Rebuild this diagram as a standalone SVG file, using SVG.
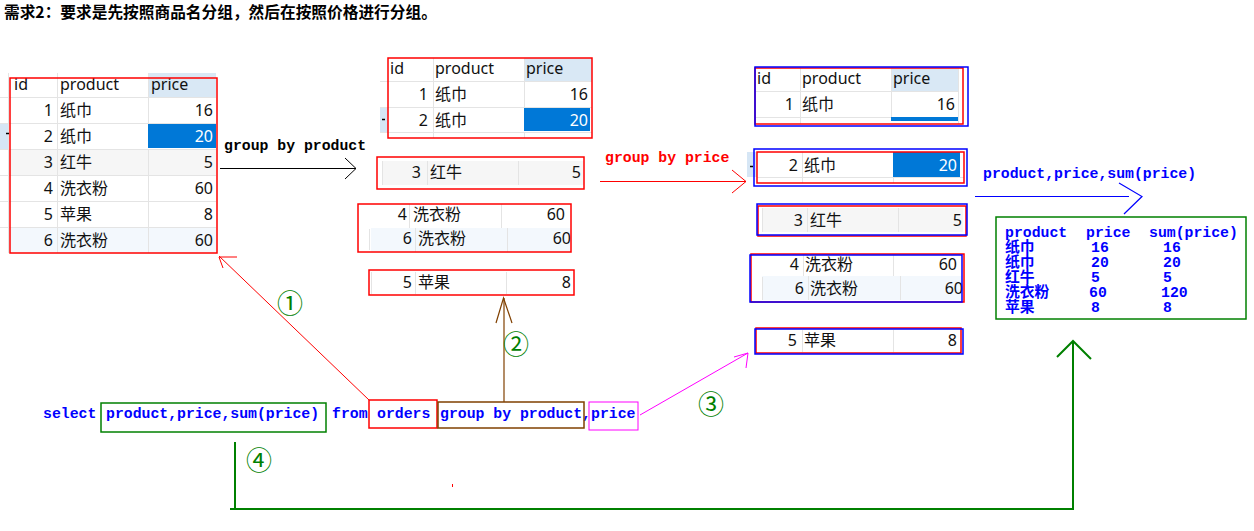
<svg xmlns="http://www.w3.org/2000/svg" width="1254" height="531" viewBox="0 0 1254 531">
<style>
.t{font-family:"Noto Sans","Noto Sans CJK SC",sans-serif;font-size:16px;fill:#111}
.w{fill:#fff}
.e{text-anchor:end}
.m{font-family:"Liberation Mono","DejaVu Sans Mono","Noto Sans CJK SC",monospace;font-weight:bold;font-size:14.8px}
.g{stroke:#e4e4e4;stroke-width:1;fill:none}
.rb{fill:none;stroke:#ff0000;stroke-width:1.5}
.bb{fill:none;stroke:#0000ff;stroke-width:1.5}
.hdr{fill:#d9e8f5}
.sel{fill:#0078d7}
.alt{fill:#f6f6f6}
.lb{fill:#f3f8fd}
.gut{fill:#d6e6f5}
.circ{font-family:"Noto Sans CJK SC",sans-serif;font-size:26px;fill:#008000;text-anchor:middle}
</style>
<rect width="1254" height="531" fill="#fff"/>
<g id="title">
<text x="4" y="18" style="font-family:'Noto Sans CJK SC',sans-serif;font-weight:bold;font-size:15.7px;fill:#000">需求2：要求是先按照商品名分组，然后在按照价格进行分组。</text>
</g>
<g id="table-orders">
<rect class="hdr" x="148" y="73" width="68" height="24"/>
<rect class="gut" x="0" y="123" width="8" height="26"/>
<rect class="alt" x="8" y="149" width="208" height="26"/>
<rect class="lb" x="8" y="227" width="208" height="26"/>
<rect class="sel" x="148" y="123" width="68" height="25"/>
<path class="g" d="M8.5 73V253M57.5 73V253M148.5 73V123M148.5 149V253M0 97.5H216M0 123.5H216M0 149.5H216M0 175.5H216M0 201.5H216M0 227.5H216"/>
<path d="M6 133.5h3" stroke="#000" stroke-width="1.5"/>
<text class="t" x="14" y="90">id</text><text class="t" x="60" y="90">product</text><text class="t" x="151" y="90">price</text>
<text class="t e" x="53" y="116">1</text><text class="t" x="60" y="116">纸巾</text><text class="t e" x="213" y="116">16</text>
<text class="t e" x="53" y="142">2</text><text class="t" x="60" y="142">纸巾</text><text class="t e w" x="213" y="142">20</text>
<text class="t e" x="53" y="168">3</text><text class="t" x="60" y="168">红牛</text><text class="t e" x="213" y="168">5</text>
<text class="t e" x="53" y="194">4</text><text class="t" x="60" y="194">洗衣粉</text><text class="t e" x="213" y="194">60</text>
<text class="t e" x="53" y="220">5</text><text class="t" x="60" y="220">苹果</text><text class="t e" x="213" y="220">8</text>
<text class="t e" x="53" y="246">6</text><text class="t" x="60" y="246">洗衣粉</text><text class="t e" x="213" y="246">60</text>
<rect class="rb" x="10" y="78" width="207" height="175"/>
</g>
<g id="group-zhijin">
<rect class="hdr" x="524" y="58" width="68" height="23"/>
<rect class="gut" x="380" y="107" width="8" height="25"/>
<rect class="sel" x="524" y="108" width="66" height="23"/>
<path class="g" d="M433.5 58V138M524.5 58V107M524.5 132V138M380 81.5H592M380 107.5H592M380 132.5H592"/>
<path d="M382 119.5h3" stroke="#000" stroke-width="1.5"/>
<text class="t" x="390" y="74">id</text><text class="t" x="435" y="74">product</text><text class="t" x="526" y="74">price</text>
<text class="t e" x="428" y="100">1</text><text class="t" x="435" y="100">纸巾</text><text class="t e" x="588" y="100">16</text>
<text class="t e" x="428" y="126">2</text><text class="t" x="435" y="126">纸巾</text><text class="t e w" x="588" y="126">20</text>
<rect class="rb" x="388" y="58" width="204" height="80"/>
</g>
<g id="group-hongniu">
<rect class="alt" x="382" y="161" width="202" height="24"/>
<path class="g" d="M382.5 161V185M427.5 161V185M518.5 161V185"/>
<text class="t e" x="421" y="178">3</text><text class="t" x="430" y="178">红牛</text><text class="t e" x="581" y="178">5</text>
<rect class="rb" x="377" y="157" width="207" height="32"/>
</g>
<g id="group-xiyifen">
<rect class="lb" x="371" y="228" width="199" height="24"/>
<path class="g" d="M409.5 204V228M501.5 204V228M369.5 229V250M415.5 228V252M507.5 228V252"/>
<text class="t e" x="407" y="220">4</text><text class="t" x="413" y="220">洗衣粉</text><text class="t e" x="565" y="220">60</text>
<text class="t e" x="412" y="244">6</text><text class="t" x="418" y="244">洗衣粉</text><text class="t e" x="571" y="244">60</text>
<rect class="rb" x="358" y="204" width="213" height="48"/>
</g>
<g id="group-pingguo">
<path class="g" d="M371.5 272V294M415.5 272V294M506.5 272V294"/>
<text class="t e" x="412" y="288">5</text><text class="t" x="418" y="288">苹果</text><text class="t e" x="571" y="288">8</text>
<rect class="rb" x="369" y="270" width="205" height="25"/>
</g>
<g id="price-16">
<rect class="hdr" x="891" y="68" width="67" height="23"/>
<rect class="sel" x="891" y="117" width="67" height="4"/>
<path class="g" d="M800.5 68V124M891.5 68V117M958.5 68V124M755 91.5H958M755 117.5H891"/>
<text class="t" x="757" y="84">id</text><text class="t" x="802" y="84">product</text><text class="t" x="893" y="84">price</text>
<text class="t e" x="794" y="110">1</text><text class="t" x="802" y="110">纸巾</text><text class="t e" x="955" y="110">16</text>
<rect class="rb" x="755" y="68" width="208" height="56"/>
<rect class="bb" x="755" y="67" width="213" height="59"/>
</g>
<g id="price-20">
<rect class="gut" x="747" y="152" width="10" height="25"/>
<rect class="sel" x="893" y="152" width="67" height="25"/>
<path class="g" d="M802.5 152V183M893.5 177V183M757 177.5H964"/>
<path d="M750 166.5h3" stroke="#000" stroke-width="1.5"/>
<text class="t e" x="798" y="171">2</text><text class="t" x="804" y="171">纸巾</text><text class="t e w" x="957" y="171">20</text>
<rect class="rb" x="757" y="152" width="207" height="31"/>
<rect class="bb" x="754" y="149" width="213" height="37"/>
</g>
<g id="price-5">
<rect class="alt" x="762" y="208" width="201" height="24"/>
<path class="g" d="M762.5 208V232M807.5 208V232M898.5 208V232"/>
<text class="t e" x="803" y="226">3</text><text class="t" x="810" y="226">红牛</text><text class="t e" x="962" y="226">5</text>
<rect class="rb" x="758" y="206" width="208" height="30"/>
<rect class="bb" x="757" y="204" width="210" height="31"/>
</g>
<g id="price-60">
<rect class="lb" x="762" y="276" width="200" height="24"/>
<path class="g" d="M803.5 255V276M893.5 255V276M762.5 277V300M808.5 276V300M900.5 276V300"/>
<text class="t e" x="799" y="270">4</text><text class="t" x="805" y="270">洗衣粉</text><text class="t e" x="957" y="270">60</text>
<text class="t e" x="804" y="294">6</text><text class="t" x="810" y="294">洗衣粉</text><text class="t e" x="963" y="294">60</text>
<rect class="rb" x="751" y="254" width="213" height="48"/>
<rect class="bb" x="750" y="255" width="212" height="47"/>
</g>
<g id="price-8">
<path class="g" d="M802.5 330V352M893.5 330V352"/>
<text class="t e" x="797" y="346">5</text><text class="t" x="804" y="346">苹果</text><text class="t e" x="957" y="346">8</text>
<rect class="rb" x="756" y="328" width="205" height="25"/>
<rect class="bb" x="755" y="329" width="208" height="25"/>
</g>
<g id="result">
<rect x="996" y="217" width="250" height="102" fill="none" stroke="#008000" stroke-width="1.5"/>
<g class="m" fill="#0000ff">
<text x="1005" y="237">product</text><text x="1086" y="237">price</text><text x="1149" y="237">sum(price)</text>
<text x="1005" y="252">纸巾</text><text x="1091" y="252">16</text><text x="1163" y="252">16</text>
<text x="1005" y="267">纸巾</text><text x="1091" y="267">20</text><text x="1163" y="267">20</text>
<text x="1005" y="282">红牛</text><text x="1091" y="282">5</text><text x="1163" y="282">5</text>
<text x="1005" y="297">洗衣粉</text><text x="1089" y="297">60</text><text x="1161" y="297">120</text>
<text x="1005" y="312">苹果</text><text x="1091" y="312">8</text><text x="1163" y="312">8</text>
</g>
</g>
<g id="sql">
<g class="m" fill="#0000ff">
<text x="43" y="418">select</text>
<text x="106" y="418">product,price,sum(price)</text>
<text x="332" y="418">from</text>
<text x="377" y="418">orders</text>
<text x="440" y="418">group by product,</text>
<text x="591" y="418">price</text>
</g>
<rect x="101" y="403" width="225" height="29" fill="none" stroke="#008000" stroke-width="1.5"/>
<rect x="369" y="400" width="68" height="28" fill="none" stroke="#ff0000" stroke-width="1.5"/>
<rect x="438" y="402" width="146" height="26" fill="none" stroke="#804000" stroke-width="1.5"/>
<rect x="589" y="402" width="49" height="28" fill="none" stroke="#ff00ff" stroke-width="1"/>
</g>
<g id="connectors" fill="none">
<g stroke="#000" stroke-width="1">
<path d="M220 168.5H356"/><path d="M345 158L356 168.5L345 179"/>
</g>
<text class="m" x="224" y="150" fill="#000">group by product</text>
<g stroke="#ff0000" stroke-width="1">
<path d="M600 181.5H746"/><path d="M732 170L746 181.5L732 193"/>
</g>
<text class="m" x="605" y="162" fill="#ff0000">group by price</text>
<g stroke="#0000ff" stroke-width="1.2">
<path d="M975 196.5H1129"/><path d="M1119 183L1142 196.5L1124 214"/>
</g>
<text class="m" x="983" y="178" fill="#0000ff">product,price,sum(price)</text>
<g stroke="#ff0000" stroke-width="1">
<path d="M369 400L219 256"/><path d="M237 257H219L223 268"/>
</g>
<g stroke="#804000" stroke-width="1.2">
<path d="M504 402V298"/><path d="M496 323L503.5 298L512 323"/>
</g>
<g stroke="#ff00ff" stroke-width="1">
<path d="M640 415L748 353"/><path d="M734 357L748 353L746 368"/>
</g>
<g stroke="#008000" stroke-width="2">
<path d="M235 442V509"/><path d="M230 509H1073V341"/><path d="M1057 357L1073 341L1091 359"/>
</g>
<path d="M452.5 484v3" stroke="#ff0000" stroke-width="1"/>
</g>
<g id="step-labels">
<text class="circ" x="290" y="313">①</text>
<text class="circ" x="516" y="354">②</text>
<text class="circ" x="711" y="414">③</text>
<text class="circ" x="259" y="470">④</text>
</g>
</svg>
